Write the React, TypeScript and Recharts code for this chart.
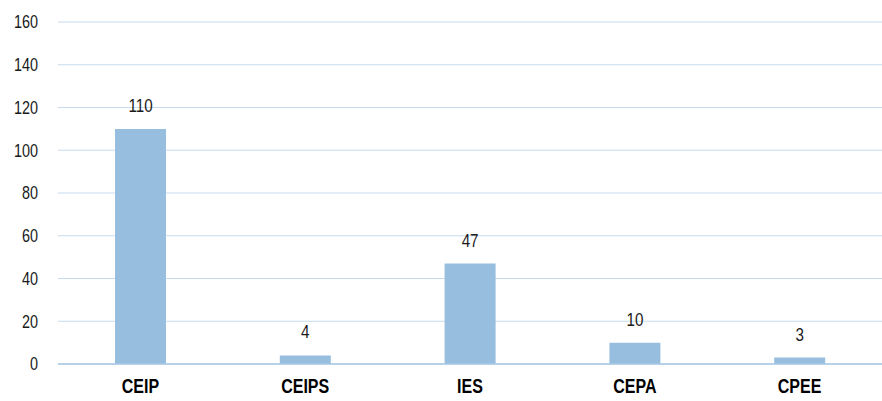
import React from 'react';
import { BarChart, Bar, XAxis, YAxis, CartesianGrid, LabelList } from 'recharts';

const categories = ['CEIP', 'CEIPS', 'IES', 'CEPA', 'CPEE'];
const counts = [110, 4, 47, 10, 3];
const yTicks = [0, 20, 40, 60, 80, 100, 120, 140, 160];

const data = categories.map((name, i) => ({ name, value: counts[i] }));

const font = "'Liberation Sans', Arial, sans-serif";
const narrow = 0.8;

// narrow (Arial Narrow-like) text by squeezing Liberation Sans horizontally
const NarrowText = ({ x, y, anchor, dy, size, weight, fill, children }: any) => (
  <g transform={`translate(${x},${y}) scale(${narrow},1)`}>
    <text
      x={0}
      y={0}
      dy={dy}
      textAnchor={anchor}
      fontSize={size}
      fontWeight={weight}
      fill={fill}
      fontFamily={font}
    >
      {children}
    </text>
  </g>
);

const YTick = (props: any) => (
  <NarrowText x={props.x} y={props.y} anchor="end" dy="0.35em" size={18} weight={400} fill="#1a1a1a">
    {props.payload.value}
  </NarrowText>
);

const XTick = (props: any) => (
  <NarrowText x={props.x} y={props.y} anchor="middle" dy="0.71em" size={20} weight={700} fill="#000">
    {props.payload.value}
  </NarrowText>
);

const ValueLabel = (props: any) => (
  <NarrowText
    x={props.x + props.width / 2}
    y={props.y - 17}
    anchor="middle"
    dy={0}
    size={19}
    weight={400}
    fill="#1a1a1a"
  >
    {props.value}
  </NarrowText>
);

export default function App() {
  return (
    <div style={{ position: 'absolute', left: 0, top: 0, background: '#fff' }}>
      <BarChart
        width={882}
        height={401}
        data={data}
        margin={{ top: 22, right: 0, left: 0, bottom: 0 }}
      >
        <CartesianGrid vertical={false} stroke="#c6dbef" strokeWidth={1} />
        <XAxis
          dataKey="name"
          height={37}
          axisLine={{ stroke: '#a9c7e4', strokeWidth: 1.5 }}
          tickLine={false}
          tickMargin={9}
          tick={<XTick />}
        />
        <YAxis
          width={58}
          domain={[0, 160]}
          ticks={yTicks}
          axisLine={false}
          tickLine={false}
          tickMargin={14}
          tick={<YTick />}
        />
        <Bar dataKey="value" fill="#98bedf" barSize={51} isAnimationActive={false}>
          <LabelList dataKey="value" content={<ValueLabel />} />
        </Bar>
      </BarChart>
    </div>
  );
}
